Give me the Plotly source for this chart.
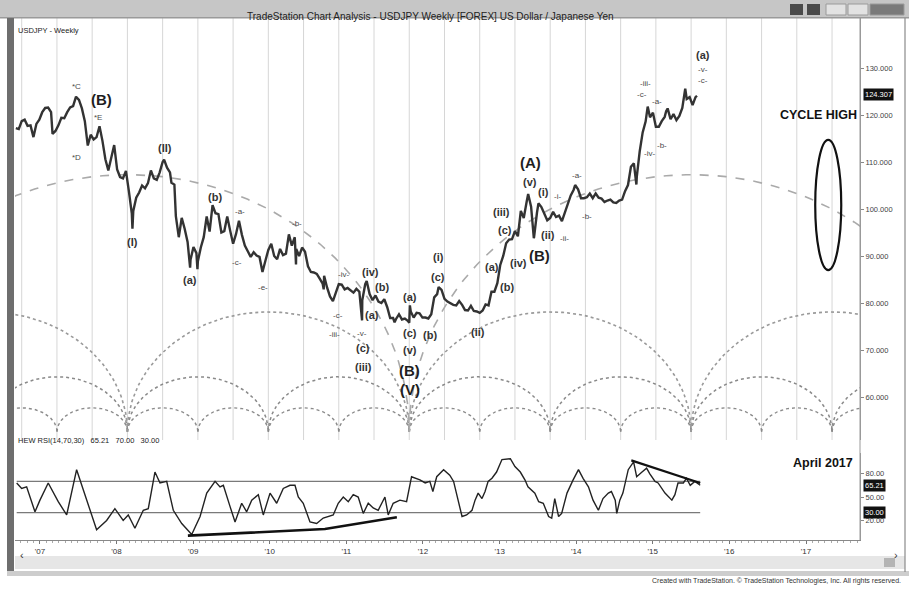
import numpy as np
import pandas as pd
import plotly.graph_objects as go

FONT = "Liberation Sans, Arial, sans-serif"

# ---------------- data ----------------
price_dates = [
"2006-09-08","2006-09-22","2006-10-06","2006-10-20","2006-11-03","2006-11-17","2006-12-01","2006-12-15","2006-12-29",
"2007-01-12","2007-01-26","2007-02-09","2007-02-23","2007-03-02","2007-03-16","2007-03-30","2007-04-13","2007-04-27",
"2007-05-11","2007-05-25","2007-06-08","2007-06-22","2007-07-06","2007-07-20","2007-08-03","2007-08-17","2007-08-31",
"2007-09-14","2007-09-28","2007-10-12","2007-10-26","2007-11-09","2007-11-23","2007-12-07","2007-12-21",
"2008-01-04","2008-01-18","2008-02-01","2008-02-15","2008-02-29","2008-03-14","2008-03-17","2008-03-21","2008-04-04",
"2008-04-18","2008-05-02","2008-05-16","2008-05-30","2008-06-13","2008-06-27","2008-07-11","2008-07-25","2008-08-08",
"2008-08-15","2008-08-29","2008-09-12","2008-09-19","2008-10-03","2008-10-10","2008-10-24","2008-11-07","2008-11-21",
"2008-12-05","2008-12-17","2008-12-19",
"2009-01-02","2009-01-16","2009-01-21","2009-01-23","2009-02-06","2009-02-20","2009-03-06","2009-03-20","2009-04-03",
"2009-04-17","2009-05-01","2009-05-15","2009-05-29","2009-06-12","2009-06-26","2009-07-10","2009-07-24","2009-08-07",
"2009-08-21","2009-09-04","2009-09-18","2009-10-02","2009-10-16","2009-10-30","2009-11-13","2009-11-27","2009-12-11",
"2009-12-25",
"2010-01-08","2010-01-22","2010-02-05","2010-02-19","2010-03-05","2010-03-19","2010-04-02","2010-04-16","2010-04-30",
"2010-05-06","2010-05-07","2010-05-21","2010-06-04","2010-06-18","2010-07-02","2010-07-16","2010-07-30","2010-08-13",
"2010-08-27","2010-09-10","2010-09-15","2010-09-17","2010-10-01","2010-10-15","2010-10-29","2010-11-12","2010-11-26",
"2010-12-10","2010-12-24",
"2011-01-07","2011-01-21","2011-02-04","2011-02-18","2011-03-04","2011-03-17","2011-03-18","2011-04-01","2011-04-08",
"2011-04-22","2011-05-06","2011-05-20","2011-06-03","2011-06-17","2011-07-01","2011-07-15","2011-07-29","2011-08-12",
"2011-08-19","2011-08-26","2011-09-09","2011-09-23","2011-10-07","2011-10-21","2011-10-28","2011-10-31","2011-11-04",
"2011-11-18","2011-12-02","2011-12-16","2011-12-30",
"2012-01-13","2012-01-27","2012-02-10","2012-02-24","2012-03-09","2012-03-16","2012-03-30","2012-04-13","2012-04-27",
"2012-05-11","2012-05-25","2012-06-08","2012-06-22","2012-07-06","2012-07-20","2012-08-03","2012-08-17","2012-08-31",
"2012-09-14","2012-09-28","2012-10-12","2012-10-26","2012-11-09","2012-11-23","2012-12-07","2012-12-21",
"2013-01-04","2013-01-18","2013-02-01","2013-02-15","2013-03-01","2013-03-15","2013-03-29","2013-04-12","2013-04-26",
"2013-05-10","2013-05-17","2013-05-31","2013-06-13","2013-06-14","2013-06-28","2013-07-05","2013-07-19","2013-08-02",
"2013-08-16","2013-08-30","2013-09-13","2013-09-27","2013-10-11","2013-10-25","2013-11-08","2013-11-22","2013-12-06",
"2013-12-20","2013-12-27",
"2014-01-10","2014-01-24","2014-02-07","2014-02-21","2014-03-07","2014-03-21","2014-04-04","2014-04-18","2014-05-02",
"2014-05-16","2014-05-30","2014-06-13","2014-06-27","2014-07-11","2014-07-25","2014-08-08","2014-08-22","2014-09-05",
"2014-09-19","2014-10-03","2014-10-15","2014-10-17","2014-10-31","2014-11-14","2014-11-28","2014-12-08","2014-12-19",
"2015-01-02","2015-01-16","2015-01-30","2015-02-13","2015-02-27","2015-03-06","2015-03-13","2015-03-27","2015-04-10",
"2015-04-24","2015-05-08","2015-05-22","2015-06-05","2015-06-12","2015-06-26","2015-07-10","2015-07-24","2015-07-31",
]
price_values = [
117.2,117.0,118.7,119.0,117.7,117.8,115.3,118.1,119.0,
120.6,121.5,121.6,120.6,116.0,116.6,117.8,119.4,119.3,
120.6,121.6,121.9,123.9,123.2,121.4,118.7,113.5,115.8,
114.8,115.3,117.6,114.5,110.6,108.2,111.2,113.6,
108.4,106.8,106.5,108.1,103.8,99.0,95.8,99.6,102.4,
103.5,105.0,104.4,105.5,108.2,106.5,106.2,107.8,110.0,
110.5,108.8,107.8,105.6,105.2,98.5,94.0,98.1,95.8,
93.0,87.5,89.2,
91.9,90.6,87.2,88.9,91.8,94.0,98.4,95.2,100.8,
99.1,98.9,95.0,95.3,98.4,95.4,92.6,94.7,97.5,
94.5,92.2,91.0,89.8,90.8,90.1,89.8,86.6,89.0,
91.3,
92.6,90.0,89.3,91.5,90.2,90.5,94.6,92.2,94.0,
88.2,91.5,90.0,91.8,90.9,87.8,86.6,86.5,86.2,
85.2,84.1,82.9,85.8,83.3,81.4,80.4,82.4,84.0,
83.9,82.9,
83.2,82.6,82.2,83.0,82.4,76.3,80.6,84.0,84.7,
81.9,80.6,81.6,80.3,80.0,80.8,79.1,76.8,76.8,
75.9,76.6,77.6,76.5,76.7,76.2,75.8,79.5,78.2,
76.9,77.9,77.8,76.9,
76.9,76.7,77.6,81.2,81.9,83.4,82.8,80.9,80.3,
79.9,79.6,79.5,80.4,79.6,78.5,78.4,79.4,78.3,
78.2,77.9,78.4,79.7,79.5,82.4,82.4,84.2,
88.1,90.0,92.7,93.5,93.6,95.3,94.2,99.6,98.1,
101.6,103.2,100.5,93.8,94.0,99.2,101.2,100.4,98.9,
97.6,98.1,99.4,98.3,98.6,97.4,99.1,101.0,102.9,
104.1,105.1,
104.2,102.3,102.3,102.5,103.3,102.3,103.3,102.4,102.2,
101.5,101.8,102.0,101.4,101.3,101.8,102.0,103.8,105.1,
109.0,109.7,105.2,106.9,112.3,116.3,118.6,121.8,119.5,
120.5,117.5,117.5,118.7,119.6,120.8,121.4,119.1,120.2,
118.9,119.8,121.5,125.6,123.4,123.8,122.1,123.8,124.1,
]

rsi_years = [
2006.696,2006.761,2006.826,2006.935,2007.000,2007.108,2007.239,2007.349,2007.479,2007.610,
2007.740,2007.871,2007.979,2008.087,2008.153,2008.240,2008.349,2008.414,2008.501,2008.567,
2008.654,2008.740,2008.850,2008.980,2009.089,2009.176,2009.285,2009.350,2009.393,2009.480,
2009.546,2009.633,2009.698,2009.764,2009.850,2009.915,2010.003,2010.090,2010.176,2010.264,
2010.329,2010.372,2010.437,2010.525,2010.612,2010.698,2010.764,2010.829,2010.894,2010.960,
2011.025,2011.090,2011.155,2011.221,2011.286,2011.351,2011.416,2011.504,2011.547,2011.612,
2011.700,2011.787,2011.852,2011.961,2012.030,2012.090,2012.130,2012.180,2012.270,2012.350,
2012.400,2012.460,2012.510,2012.570,2012.640,2012.680,2012.720,2012.770,2012.810,2012.850,
2012.900,2012.960,2013.030,2013.140,2013.200,2013.270,2013.330,2013.370,2013.460,2013.510,
2013.570,2013.640,2013.680,2013.720,2013.770,2013.810,2013.880,2013.960,2014.030,2014.090,
2014.160,2014.220,2014.290,2014.350,2014.420,2014.460,2014.510,2014.530,2014.570,2014.610,
2014.680,2014.750,2014.790,2014.860,2014.920,2014.960,2015.030,2015.070,2015.160,2015.250,
2015.290,2015.330,2015.400,2015.440,2015.490,2015.550,2015.620,
]
rsi_values = [
68,61,63,31,46,68,44,27,85,46,
8,20,35,20,27,10,33,35,82,68,
70,33,16,2,25,55,70,63,65,38,
18,42,31,46,53,27,55,42,61,65,
65,50,42,18,16,23,25,27,42,50,
44,53,50,29,42,36,33,50,27,42,
46,44,76,72,68,70,57,76,85,78,
70,46,25,27,33,46,55,48,57,70,
74,82,98,99,89,82,72,63,55,44,
42,25,23,48,25,29,55,72,85,74,
63,46,33,48,55,57,46,29,46,55,
85,95,76,82,87,80,70,68,55,46,
53,68,68,74,65,70,65,
]

rsi_levels = [70, 30]
rsi_trend1_years = [2008.93, 2010.72, 2011.66]
rsi_trend1_values = [0.5, 9.0, 24.0]
rsi_trend2_years = [2014.72, 2015.62]
rsi_trend2_values = [97.0, 68.0]

price_ticks = [60, 70, 80, 90, 100, 110, 120, 130]
rsi_ticks = [20, 50, 80]
year_ticks = list(range(2007, 2018))
year_labels = ["'07", "'08", "'09", "'10", "'11", "'12", "'13", "'14", "'15", "'16", "'17"]
last_price = 124.307
last_rsi = 65.21

# time-cycle arcs (anchored at the Oct-2011 low)
cycle_anchor = "2011-10-28"
cycle_weeks = [48, 96, 192, 384]
cycle_heights = [5.1, 11.7, 25.5, 54.7]
cycle_base = 52.6
grid_weeks = 24

# wave labels
big_text = ["(B)", "(A)", "(B)", "(B)", "(V)"]
big_t = [2007.80, 2013.40, 2013.52, 2011.83, 2011.83]
big_p = [123.2, 109.8, 90.2, 65.7, 61.5]

mid_text = ["(II)", "(I)", "(b)", "(a)", "(iv)", "(b)", "(a)", "(c)", "(iii)", "(a)", "(c)", "(b)", "(v)",
            "(i)", "(c)", "(ii)", "(a)", "(b)", "(iii)", "(c)", "(iv)", "(v)", "(i)", "(ii)", "(a)"]
mid_t = [2008.63, 2008.21, 2009.28, 2008.96, 2011.31, 2011.46, 2011.33, 2011.22, 2011.22, 2011.83, 2011.83, 2012.09, 2011.83,
         2012.20, 2012.20, 2012.72, 2012.90, 2013.10, 2013.03, 2013.07, 2013.25, 2013.40, 2013.57, 2013.63, 2015.66]
mid_p = [113.0, 93.0, 102.6, 84.9, 86.6, 83.4, 77.4, 70.4, 66.4, 81.3, 73.6, 73.2, 70.0,
         89.8, 85.5, 73.8, 87.7, 83.4, 99.4, 95.5, 88.5, 105.7, 103.6, 94.5, 132.8]

small_text = ["*C", "*E", "*D", "-a-", "-c-", "-e-", "-b-", "-iv-", "-c-", "-iii-", "-v-", "-i-", "-ii-", "-a-", "-b-",
              "-iii-", "-c-", "-a-", "-b-", "-iv-", "-v-", "-c-"]
small_t = [2007.48, 2007.76, 2007.48, 2009.61, 2009.57, 2009.91, 2010.35, 2010.96, 2010.89, 2010.85, 2011.20, 2013.75,
           2013.85, 2014.01, 2014.14, 2014.90, 2014.86, 2015.05, 2015.12, 2014.96, 2015.66, 2015.66]
small_p = [126.0, 119.4, 110.9, 99.4, 88.7, 83.4, 97.0, 86.0, 77.4, 73.2, 73.6, 102.6,
           93.8, 107.2, 98.3, 126.8, 124.3, 122.8, 113.6, 111.9, 129.6, 127.4]

# ---------------- helpers ----------------
def yr2ts(t):
    y = int(np.floor(t))
    start = pd.Timestamp(year=y, month=1, day=1)
    ndays = 366 if pd.Timestamp(year=y, month=12, day=31).dayofyear == 366 else 365
    return start + pd.Timedelta(days=(t - y) * ndays)

def ds(ts):
    return ts.strftime("%Y-%m-%d %H:%M")

L, R, T, B = 15, 860, 18, 540
def px(x):
    return (x - L) / (R - L)
def py(y):
    return (B - y) / (B - T)

x0, x1 = yr2ts(2006.674), yr2ts(2017.705)

fig = go.Figure()

# cycle arcs
anchor = pd.Timestamp(cycle_anchor)
arc_styles = [("dot", "#8a8a8a", 1.4), ("dot", "#8a8a8a", 1.5), ("dot", "#9a9a9a", 1.6), ("dash", "#aaaaaa", 1.6)]
theta = np.linspace(0, np.pi, 90)
for weeks, h, (dash, col, w) in zip(cycle_weeks, cycle_heights, arc_styles):
    period = pd.Timedelta(weeks=weeks)
    kmin = int(np.floor((x0 - anchor) / period))
    kmax = int(np.ceil((x1 - anchor) / period))
    xs, ys = [], []
    for k in range(kmin, kmax):
        a = anchor + k * period
        frac = (1 - np.cos(theta)) / 2
        xs += [ds(a + period * f) for f in frac]
        ys += list(cycle_base + h * np.sin(theta))
        xs.append(None)
        ys.append(None)
    fig.add_trace(go.Scatter(x=xs, y=ys, mode="lines", line=dict(color=col, width=w, dash=dash),
                             hoverinfo="skip", xaxis="x", yaxis="y"))

# price
fig.add_trace(go.Scatter(x=price_dates, y=price_values, mode="lines",
                         line=dict(color="#333333", width=2.4), xaxis="x", yaxis="y"))

# RSI
rsi_x = [ds(yr2ts(t)) for t in rsi_years]
for lv in rsi_levels:
    fig.add_trace(go.Scatter(x=[rsi_x[0], rsi_x[-1]], y=[lv, lv], mode="lines",
                             line=dict(color="#7a7a7a", width=1.2), xaxis="x", yaxis="y2"))
fig.add_trace(go.Scatter(x=rsi_x, y=rsi_values, mode="lines", line=dict(color="#222222", width=1.4),
                         xaxis="x", yaxis="y2"))
fig.add_trace(go.Scatter(x=[ds(yr2ts(t)) for t in rsi_trend1_years], y=rsi_trend1_values, mode="lines",
                         line=dict(color="#111111", width=2.6), xaxis="x", yaxis="y2"))
fig.add_trace(go.Scatter(x=[ds(yr2ts(t)) for t in rsi_trend2_years], y=rsi_trend2_values, mode="lines",
                         line=dict(color="#111111", width=2.2), xaxis="x", yaxis="y2"))

shapes = []
# vertical cycle grid lines in the price panel
gp = pd.Timedelta(weeks=grid_weeks)
for k in range(int(np.floor((x0 - anchor) / gp)), int(np.ceil((x1 - anchor) / gp)) + 1):
    gx = anchor + k * gp
    if x0 < gx < x1:
        shapes.append(dict(type="line", xref="x", yref="y domain", x0=ds(gx), x1=ds(gx), y0=0, y1=1,
                           line=dict(color="#d6d6d6", width=1), layer="below"))

# ellipse around the cycle high
shapes.append(dict(type="circle", xref="x", yref="y", x0=ds(yr2ts(2017.12)), x1=ds(yr2ts(2017.46)),
                   y0=87.0, y1=114.7, line=dict(color="#111", width=2.2)))

# window chrome (title bar, borders, scroll bar)
def prect(xa, xb, ya, yb, fill, line=None):
    shapes.append(dict(type="rect", xref="paper", yref="paper", x0=px(xa), x1=px(xb), y0=py(yb), y1=py(ya),
                       fillcolor=fill, line=dict(width=0 if line is None else 1, color=line or fill), layer="above"))
prect(0, 909, 0, 17, "#c6c6c6")
prect(0, 909, 17, 18.5, "#9a9a9a")
prect(790, 803, 4, 15, "#4a4a4a")
prect(807, 820, 4, 15, "#4a4a4a")
prect(826, 846, 4, 15, "#e2e2e2", "#9a9a9a")
prect(848, 868, 4, 15, "#e2e2e2", "#9a9a9a")
prect(870, 904, 4, 15, "#7a7a7a", "#9a9a9a")
prect(7, 14, 18, 572, "#6e6e6e")
prect(15, 905, 556, 569, "#e6e6e6")
prect(884, 895, 558, 567, "#b4b4b4")
prect(7, 909, 571, 576, "#cdcdcd")
shapes.append(dict(type="line", xref="paper", yref="paper", x0=px(905), x1=px(905), y0=py(572), y1=py(18),
                   line=dict(color="#8a8a8a", width=1.2)))
shapes.append(dict(type="line", xref="paper", yref="paper", x0=1, x1=1, y0=0, y1=1,
                   line=dict(color="#9a9a9a", width=1)))

ann = []
def lab(texts, ts, ps, size, bold, color):
    for s, t, p in zip(texts, ts, ps):
        ann.append(dict(x=ds(yr2ts(t)), y=p, xref="x", yref="y", showarrow=False,
                        text=f"<b>{s}</b>" if bold else s, font=dict(size=size, color=color, family=FONT)))
lab(big_text, big_t, big_p, 15, True, "#1e1e1e")
lab(mid_text, mid_t, mid_p, 11, True, "#333333")
lab(small_text, small_t, small_p, 8, False, "#4a4a4a")

ann.append(dict(x=ds(yr2ts(2017.16)), y=120.0, xref="x", yref="y", showarrow=False,
                text="<b>CYCLE HIGH</b>", font=dict(size=12.5, color="#111", family=FONT)))
ann.append(dict(x=ds(yr2ts(2017.22)), y=93.0, xref="x", yref="y2", showarrow=False,
                text="<b>April 2017</b>", font=dict(size=12.5, color="#111", family=FONT)))
ann.append(dict(x=px(16), y=py(24), xref="paper", yref="paper", xanchor="left", showarrow=False,
                text="USDJPY - Weekly", font=dict(size=7.5, color="#222", family=FONT)))
ann.append(dict(x=px(16), y=py(447), xref="paper", yref="paper", xanchor="left", showarrow=False,
                text="HEW RSI(14,70,30)&nbsp;&nbsp; 65.21&nbsp;&nbsp; 70.00&nbsp;&nbsp; 30.00",
                font=dict(size=7.5, color="#222", family=FONT)))
ann.append(dict(x=px(430), y=py(9), xref="paper", yref="paper", showarrow=False,
                text="TradeStation Chart Analysis - USDJPY Weekly [FOREX] US Dollar / Japanese Yen",
                font=dict(size=10, color="#222", family=FONT)))
ann.append(dict(x=px(903), y=py(587), xref="paper", yref="paper", xanchor="right", showarrow=False,
                text="Created with TradeStation. © TradeStation Technologies, Inc. All rights reserved.",
                font=dict(size=7, color="#333", family=FONT)))
ann.append(dict(x=px(18), y=py(562.5), xref="paper", yref="paper", showarrow=False, text="‹",
                font=dict(size=11, color="#333", family=FONT)))
ann.append(dict(x=px(900), y=py(562.5), xref="paper", yref="paper", showarrow=False, text="›",
                font=dict(size=11, color="#333", family=FONT)))
# last-value boxes
ann.append(dict(x=1, y=last_price, xref="paper", yref="y", xanchor="left", xshift=3, showarrow=False,
                text=f"{last_price:.3f}", bgcolor="#111", borderpad=1,
                font=dict(size=7.5, color="white", family=FONT)))
ann.append(dict(x=1, y=last_rsi, xref="paper", yref="y2", xanchor="left", xshift=3, showarrow=False,
                text=f"{last_rsi:.2f}", bgcolor="#111", borderpad=1,
                font=dict(size=7.5, color="white", family=FONT)))
ann.append(dict(x=1, y=rsi_levels[1], xref="paper", yref="y2", xanchor="left", xshift=3, showarrow=False,
                text=f"{rsi_levels[1]:.2f}", bgcolor="#111", borderpad=1,
                font=dict(size=7.5, color="white", family=FONT)))

fig.update_layout(
    width=909, height=592, margin=dict(l=L, r=909 - R, t=T, b=592 - B),
    paper_bgcolor="white", plot_bgcolor="white", showlegend=False,
    font=dict(family=FONT),
    shapes=shapes, annotations=ann,
    xaxis=dict(type="date", range=[ds(x0), ds(x1)], anchor="y2",
               tickmode="array", tickvals=[f"{y}-01-01" for y in year_ticks], ticktext=year_labels,
               ticks="outside", ticklen=3, tickcolor="#777", showline=True, linecolor="#888",
               showgrid=False, zeroline=False, tickfont=dict(size=8, color="#333"),
               minor=dict(ticks="outside", ticklen=2, tickcolor="#aaa", dtick="M1", tick0="2007-01-01",
                          showgrid=False)),
    yaxis=dict(domain=[py(440), 1], range=[50.85, 140.64], side="right", anchor="x",
               tickmode="array", tickvals=price_ticks, ticktext=[f"{v:.3f}" for v in price_ticks],
               showgrid=False, zeroline=False, showline=True, linecolor="#999",
               ticks="outside", ticklen=3, tickcolor="#888", tickfont=dict(size=7.5, color="#444")),
    yaxis2=dict(domain=[0, py(453)], range=[-5.1, 106.4], side="right", anchor="x",
                tickmode="array", tickvals=rsi_ticks, ticktext=[f"{v:.2f}" for v in rsi_ticks],
                showgrid=False, zeroline=False, showline=True, linecolor="#999",
                ticks="outside", ticklen=3, tickcolor="#888", tickfont=dict(size=7.5, color="#444")),
)

fig.write_html("out.html", config={"displayModeBar": False},
               post_script="document.body.style.margin='0';document.body.style.padding='0';")
